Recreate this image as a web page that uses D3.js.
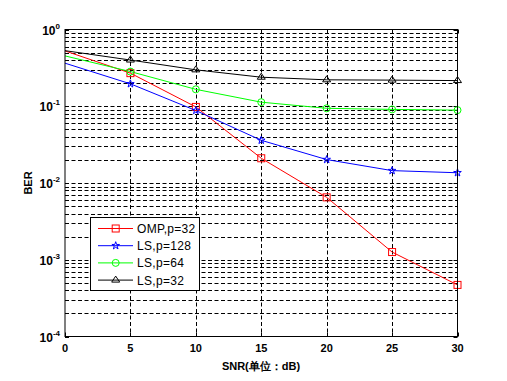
<!DOCTYPE html>
<html><head><meta charset="utf-8">
<script src="https://cdn.jsdelivr.net/npm/d3@7/dist/d3.min.js"></script>
<style>body{margin:0;background:#fff}svg{display:block}</style>
</head><body>
<svg id="c" width="507" height="381"></svg>
<script>
const snr = [0, 5, 10, 15, 20, 25, 30];
const omp32 = [0.526, 0.27, 0.098, 0.021, 0.0065, 0.00126, 0.00047];
const ls128 = [0.364, 0.196, 0.088, 0.036, 0.0202, 0.0145, 0.0136];
const ls64 = [0.453, 0.283, 0.166, 0.113, 0.094, 0.091, 0.089];
const ls32 = [0.53, 0.40, 0.298, 0.239, 0.221, 0.219, 0.216];
const seriesNames = ["OMP,p=32", "LS,p=128", "LS,p=64", "LS,p=32"];
const xTicks = [0, 5, 10, 15, 20, 25, 30];
const yExps = [0, -1, -2, -3, -4];
const xLabel = "SNR(单位：dB)";
const yLabel = "BER";

const series = [
  {name: seriesNames[0], values: omp32, color: "#ff0000", marker: "square"},
  {name: seriesNames[1], values: ls128, color: "#0000ff", marker: "star"},
  {name: seriesNames[2], values: ls64, color: "#00ff00", marker: "circle"},
  {name: seriesNames[3], values: ls32, color: "#000000", marker: "triangle"}
];

const L = 65, R = 457.5, T = 29.5, B = 336.5;
const svg = d3.select("#c");
const x = d3.scaleLinear().domain([0, 30]).range([L, R]);
const y = d3.scaleLog().domain([1e-4, 1]).range([B, T]);

// grid
const g = svg.append("g");
const minorVals = [];
for (let e = -4; e < 0; e++) for (let m = 1; m <= 9; m++) minorVals.push(m * Math.pow(10, e));
g.selectAll("line.hy").data(minorVals.filter(v => v > 1e-4)).enter().append("line")
  .attr("x1", L).attr("x2", R).attr("y1", d => Math.round(y(d)) + 0.5).attr("y2", d => Math.round(y(d)) + 0.5)
  .attr("stroke", "#000").attr("stroke-width", 1).attr("stroke-dasharray", "4,2.5");
g.selectAll("line.vx").data(xTicks.slice(1, -1)).enter().append("line")
  .attr("y1", T).attr("y2", B).attr("x1", d => Math.round(x(d)) + 0.5).attr("x2", d => Math.round(x(d)) + 0.5)
  .attr("stroke", "#000").attr("stroke-width", 1).attr("stroke-dasharray", "4,2.5");

// ticks inward
const tk = svg.append("g").attr("stroke", "#000");
xTicks.forEach(t => {
  const px = Math.round(x(t)) + 0.5;
  tk.append("line").attr("x1", px).attr("x2", px).attr("y1", B).attr("y2", B - 4);
  tk.append("line").attr("x1", px).attr("x2", px).attr("y1", T).attr("y2", T + 4);
});
minorVals.concat([1]).forEach(v => {
  const py = Math.round(y(v)) + 0.5;
  const len = Math.abs(Math.log10(v) - Math.round(Math.log10(v))) < 1e-9 ? 4 : 2;
  tk.append("line").attr("x1", L).attr("x2", L + len).attr("y1", py).attr("y2", py);
  tk.append("line").attr("x1", R).attr("x2", R - len).attr("y1", py).attr("y2", py);
});

// lines
const line = d3.line().x((d, i) => x(snr[i])).y(d => y(d));
series.forEach(s => {
  svg.append("path").datum(s.values).attr("d", line).attr("fill", "none")
    .attr("stroke", s.color).attr("stroke-width", 1);
});

function marker(sel, type, color, cx, cy) {
  if (type === "square") sel.append("rect").attr("x", cx - 3.5).attr("y", cy - 3.5).attr("width", 7).attr("height", 7)
    .attr("fill", "none").attr("stroke", color);
  else if (type === "circle") sel.append("circle").attr("cx", cx).attr("cy", cy).attr("r", 3.5).attr("fill", "none").attr("stroke", color);
  else if (type === "triangle") sel.append("path").attr("d", `M${cx},${cy - 4}L${cx + 4},${cy + 2}L${cx - 4},${cy + 2}Z`)
    .attr("fill", "none").attr("stroke", color);
  else if (type === "star") sel.append("path").attr("d", d3.symbol().type(d3.symbolStar).size(18)())
    .attr("transform", `translate(${cx},${cy})`).attr("fill", "none").attr("stroke", color);
}
series.forEach(s => {
  s.values.forEach((v, i) => { if (snr[i] > 0) marker(svg, s.marker, s.color, x(snr[i]), y(v)); });
});

// axes box
svg.append("rect").attr("x", L).attr("y", T).attr("width", R - L).attr("height", B - T)
  .attr("fill", "none").attr("stroke", "#000").attr("stroke-width", 1);

// tick labels
const font = "Arial, 'Liberation Sans', sans-serif";
xTicks.forEach(t => {
  svg.append("text").attr("x", x(t)).attr("y", 352).attr("text-anchor", "middle")
    .attr("font-family", font).attr("font-size", 11).attr("font-weight", "bold").text(t);
});
yExps.forEach(e => {
  const t = svg.append("text").attr("x", 60).attr("y", y(Math.pow(10, e)) + 5).attr("text-anchor", "end")
    .attr("font-family", font).attr("font-size", 12).attr("font-weight", "bold");
  t.append("tspan").text("10");
  t.append("tspan").attr("dy", -6).attr("font-size", 8).text(e);
});
svg.append("text").attr("x", 261).attr("y", 370).attr("text-anchor", "middle")
  .attr("font-family", font).attr("font-size", 11).attr("font-weight", "bold").text(xLabel);
svg.append("text").attr("transform", "translate(32,183) rotate(-90)").attr("text-anchor", "middle")
  .attr("font-family", font).attr("font-size", 11).attr("font-weight", "bold").text(yLabel);

// legend
const lg = svg.append("g");
lg.append("rect").attr("x", 90.5).attr("y", 217.5).attr("width", 109).attr("height", 73)
  .attr("fill", "#fff").attr("stroke", "#000");
series.forEach((s, i) => {
  const yy = 228.5 + i * 17.2;
  lg.append("line").attr("x1", 98).attr("x2", 133).attr("y1", yy).attr("y2", yy).attr("stroke", s.color);
  marker(lg, s.marker, s.color, 115.7, yy);
  lg.append("text").attr("x", 137).attr("y", yy + 4.5).attr("font-family", font).attr("font-size", 12)
    .attr("letter-spacing", 0.3).text(s.name);
});
</script>
</body></html>
